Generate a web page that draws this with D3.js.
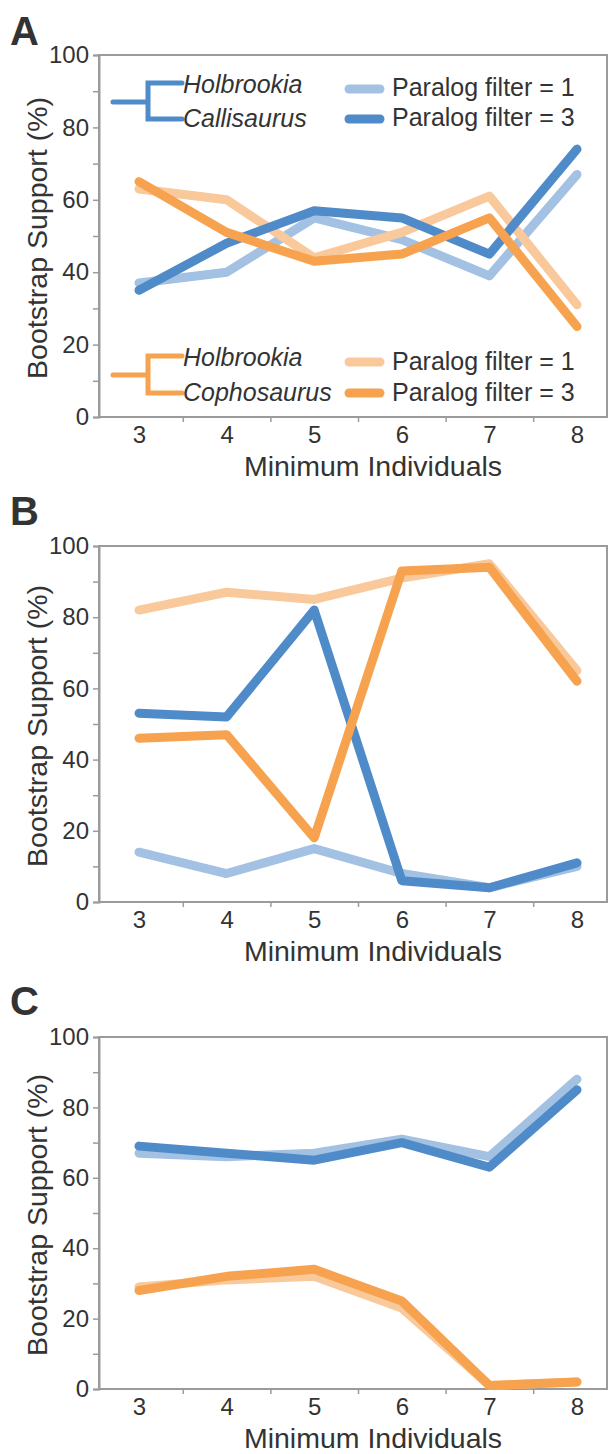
<!DOCTYPE html>
<html>
<head>
<meta charset="utf-8">
<script src="https://cdn.jsdelivr.net/npm/d3@7"></script>
<style>
  body { margin: 0; background: #fff; }
  text { font-family: "Liberation Sans", Arial, sans-serif; fill: #333; }
</style>
</head>
<body>
<svg id="fig" width="609" height="1454"></svg>
<script>
// minimum individuals (x categories)
const minInd = [3, 4, 5, 6, 7, 8];

// panel A
const aBlue1 = [37, 40, 55, 49, 39, 67];
const aBlue3 = [35, 48, 57, 55, 45, 74];
const aOrange1 = [63, 60, 44, 51, 61, 31];
const aOrange3 = [65, 51, 43, 45, 55, 25];

// panel B
const bBlue1 = [14, 8, 15, 8, 4, 10];
const bBlue3 = [53, 52, 82, 6, 4, 11];
const bOrange1 = [82, 87, 85, 91, 95, 65];
const bOrange3 = [46, 47, 18, 93, 94, 62];

// panel C
const cBlue1 = [67, 66, 67, 71, 66, 88];
const cBlue3 = [69, 67, 65, 70, 63, 85];
const cOrange1 = [29, 31, 32, 23, 1, 2];
const cOrange3 = [28, 32, 34, 25, 1, 2];

const colors = {
  blue1: "#a3c1e3",
  blue3: "#4f8bc9",
  orange1: "#f9c99b",
  orange3: "#f6a24e"
};
const axisColor = "#9b9b9b";

const panels = [
  { letter: "A", letterY: 45, top: 55, bottom: 417,
    series: [[aBlue1, "blue1"], [aOrange1, "orange1"], [aBlue3, "blue3"], [aOrange3, "orange3"]] },
  { letter: "B", letterY: 525, top: 546, bottom: 902,
    series: [[bBlue1, "blue1"], [bOrange1, "orange1"], [bBlue3, "blue3"], [bOrange3, "orange3"]] },
  { letter: "C", letterY: 1015, top: 1037, bottom: 1389,
    series: [[cBlue1, "blue1"], [cOrange1, "orange1"], [cBlue3, "blue3"], [cOrange3, "orange3"]] }
];

const svg = d3.select("#fig");
const left = 99, right = 607;

panels.forEach((p, pi) => {
  const g = svg.append("g");
  const x = d3.scaleLinear().domain([3, 8]).range([139, 577]);
  const y = d3.scaleLinear().domain([0, 100]).range([p.bottom, p.top]);

  // box
  g.append("rect")
    .attr("x", left).attr("y", p.top)
    .attr("width", right - left).attr("height", p.bottom - p.top)
    .attr("fill", "none").attr("stroke", axisColor).attr("stroke-width", 2);

  // y axis
  const yAxis = d3.axisLeft(y)
    .tickValues(d3.range(0, 101, 10))
    .tickSize(6).tickPadding(4)
    .tickFormat(d => d % 20 === 0 ? d : "");
  const ya = g.append("g").attr("transform", `translate(${left},0)`).call(yAxis);
  ya.select(".domain").attr("stroke", axisColor).attr("stroke-width", 2);
  ya.selectAll(".tick line").attr("stroke", axisColor).attr("stroke-width", 1.5);
  ya.selectAll(".tick text").attr("font-size", 24).attr("fill", "#333")
    .attr("font-family", "Liberation Sans, Arial, sans-serif");

  // x axis: small ticks between categories, labels at categories
  const xTicks = d3.axisBottom(x)
    .tickValues([3.5, 4.5, 5.5, 6.5, 7.5])
    .tickSize(5).tickFormat("");
  const xa = g.append("g").attr("transform", `translate(0,${p.bottom})`).call(xTicks);
  xa.select(".domain").remove();
  xa.selectAll(".tick line").attr("stroke", axisColor).attr("stroke-width", 1.5);

  const xLabels = d3.axisBottom(x).tickValues(minInd).tickSize(0).tickPadding(9)
    .tickFormat(d3.format("d"));
  const xl = g.append("g").attr("transform", `translate(0,${p.bottom})`).call(xLabels);
  xl.select(".domain").remove();
  xl.selectAll(".tick text").attr("font-size", 24).attr("fill", "#333")
    .attr("font-family", "Liberation Sans, Arial, sans-serif");

  // axis titles
  g.append("text")
    .attr("x", 373).attr("y", p.bottom + 59)
    .attr("text-anchor", "middle").attr("font-size", 28.5)
    .text("Minimum Individuals");
  g.append("text")
    .attr("transform", `translate(47,${(p.top + p.bottom) / 2 + 2}) rotate(-90)`)
    .attr("text-anchor", "middle").attr("font-size", 28.5)
    .text("Bootstrap Support (%)");

  // panel letter
  g.append("text")
    .attr("x", 10).attr("y", p.letterY)
    .attr("font-size", 40).attr("font-weight", "bold").attr("fill", "#222")
    .text(p.letter);

  // lines
  const line = d3.line().x((d, i) => x(minInd[i])).y(d => y(d));
  p.series.forEach(([vals, key]) => {
    g.append("path")
      .datum(vals)
      .attr("d", line)
      .attr("fill", "none")
      .attr("stroke", colors[key])
      .attr("stroke-width", 9)
      .attr("stroke-linecap", "round")
      .attr("stroke-linejoin", "round");
  });

  if (pi === 0) {
    const legends = [
      { color: "blue3", stemY: 102, topY: 83, botY: 119, names: ["Holbrookia", "Callisaurus"],
        keyY: [89, 119], keyCol: ["blue1", "blue3"], textY: [96, 126] },
      { color: "orange3", stemY: 375, topY: 356, botY: 393, names: ["Holbrookia", "Cophosaurus"],
        keyY: [362, 393], keyCol: ["orange1", "orange3"], textY: [370, 401] }
    ];
    legends.forEach(L => {
      const lg = g.append("g");
      const c = colors[L.color];
      lg.append("path")
        .attr("d", `M113,${L.stemY}H148M182,${L.topY}H148V${L.botY}H182`)
        .attr("fill", "none").attr("stroke", c).attr("stroke-width", 5)
        .attr("stroke-linecap", "round").attr("stroke-linejoin", "miter");
      lg.append("text").attr("x", 183).attr("y", L.topY + 10)
        .attr("font-size", 25).attr("font-style", "italic").text(L.names[0]);
      lg.append("text").attr("x", 183).attr("y", L.botY + 8)
        .attr("font-size", 25).attr("font-style", "italic").text(L.names[1]);
      L.keyY.forEach((ky, k) => {
        lg.append("line")
          .attr("x1", 349).attr("x2", 380).attr("y1", ky).attr("y2", ky)
          .attr("stroke", colors[L.keyCol[k]]).attr("stroke-width", 9)
          .attr("stroke-linecap", "round");
        lg.append("text").attr("x", 392).attr("y", L.textY[k])
          .attr("font-size", 25).text(k === 0 ? "Paralog filter = 1" : "Paralog filter = 3");
      });
    });
  }
});
</script>
</body>
</html>
